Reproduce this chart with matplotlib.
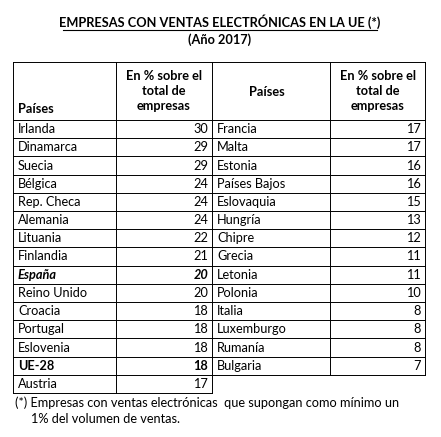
import matplotlib
matplotlib.use("Agg")
import matplotlib.pyplot as plt

left_countries = ["Irlanda","Dinamarca","Suecia","Bélgica","Rep. Checa","Alemania","Lituania",
                  "Finlandia","España","Reino Unido","Croacia","Portugal","Eslovenia","UE-28","Austria"]
left_values = [30,29,29,24,24,24,22,21,20,20,18,18,18,18,17]
right_countries = ["Francia","Malta","Estonia","Países Bajos","Eslovaquia","Hungría","Chipre",
                   "Grecia","Letonia","Polonia","Italia","Luxemburgo","Rumanía","Bulgaria"]
right_values = [17,17,16,16,15,13,12,11,11,10,8,8,8,7]

fig = plt.figure(figsize=(4.41,4.37), dpi=100)
ax = fig.add_axes([0,0,1,1])
ax.set_xlim(0,441); ax.set_ylim(437,0); ax.axis("off")
fam = "Lato"
fs = 9.2
lw = 0.7

ax.text(220,22,"EMPRESAS CON VENTAS ELECTRÓNICAS EN LA UE (*)",ha="center",va="center",
        fontsize=fs,fontweight="bold",family=fam)
ax.plot([63,377],[29.5,29.5],color="black",lw=0.8)
ax.text(220,40,"(Año 2017)",ha="center",va="center",fontsize=fs,fontweight="bold",family=fam)

xs = [13,116,212,330,425]
top, hb, rh = 62, 120, 18.2
nrows = len(left_countries)
bottom = hb + rh*nrows
ax.plot([xs[0],xs[-1]],[top,top],color="black",lw=lw)
for x in xs:
    ax.plot([x,x],[top,bottom-rh if x>xs[2] else bottom],color="black",lw=lw)
for i in range(nrows+1):
    y = hb + rh*i
    x1 = xs[-1] if i < nrows else xs[2]
    ax.plot([xs[0],x1],[y,y],color="black",lw=lw)

for k in (1,3):
    mid = (xs[k] + xs[k+1])/2
    for j,t in enumerate(["En % sobre el","total de","empresas"]):
        ax.text(mid,76+j*15,t,ha="center",va="center",fontsize=fs,fontweight="bold",family=fam)
ax.text(xs[0]+5,109,"Países",ha="left",va="center",fontsize=fs,fontweight="bold",family=fam)
ax.text(xs[2]+37,92,"Países",ha="left",va="center",fontsize=fs,fontweight="bold",family=fam)

def row(col, i, name, val):
    y = hb + rh*i + rh/2
    w = "bold" if name in ("España","UE-28") else "normal"
    st = "italic" if name == "España" else "normal"
    ax.text(xs[col]+5,y,name,ha="left",va="center",fontsize=fs,fontweight=w,style=st,family=fam)
    ax.text(xs[col+2]-4,y,str(val),ha="right",va="center",fontsize=fs,fontweight=w,style=st,family=fam)

for i,(n,v) in enumerate(zip(left_countries,left_values)):
    row(0,i,n,v)
for i,(n,v) in enumerate(zip(right_countries,right_values)):
    row(2,i,n,v)

ax.text(15,bottom+10,"(*) Empresas con ventas electrónicas  que supongan como mínimo un",
        ha="left",va="center",fontsize=fs,family=fam)
ax.text(31,bottom+26,"1% del volumen de ventas.",ha="left",va="center",fontsize=fs,family=fam)
fig.savefig("out.png",dpi=100)
